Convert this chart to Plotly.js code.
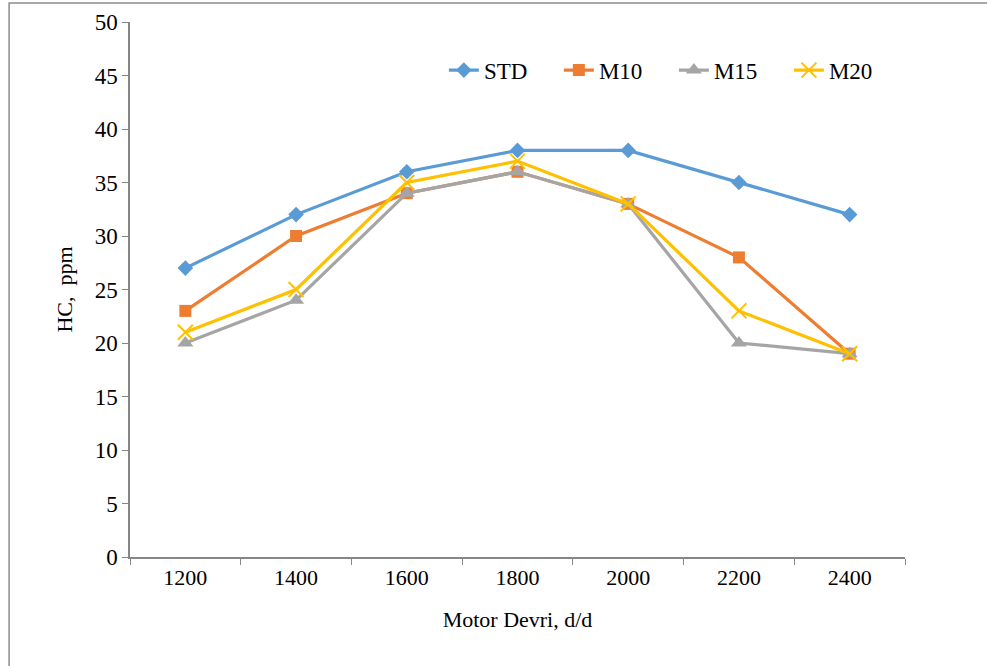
<!DOCTYPE html>
<html>
<head>
<meta charset="utf-8">
<script src="https://cdn.plot.ly/plotly-3.0.1.min.js"></script>
<style>html,body{margin:0;padding:0;background:#fff;}#chart{width:987px;height:666px;}</style>
</head>
<body>
<div id="chart"></div>
<script>
var categories = ['1200','1400','1600','1800','2000','2200','2400'];
var seriesNames = ['STD','M10','M15','M20'];
var STD = [27, 32, 36, 38, 38, 35, 32];
var M10 = [23, 30, 34, 36, 33, 28, 19];
var M15 = [20, 24, 34, 36, 33, 20, 19];
var M20 = [21, 25, 35, 37, 33, 23, 19];
var yTicks = [0,5,10,15,20,25,30,35,40,45,50];

var colors = ['#5B9BD5','#ED7D31','#A5A5A5','#FFC000'];
var symbols = ['diamond','square','triangle-up','x-thin-open'];
var sizes = [12, 12, 14, 15];
var data = [STD, M10, M15, M20].map(function(v,i){
  return {
    x: categories, y: v, name: seriesNames[i], type:'scatter', mode:'lines+markers',
    line:{color:colors[i], width:3.2},
    marker:{symbol:symbols[i], size:sizes[i], color:colors[i], line:{color:colors[i], width: i===3?2:0}}
  };
});
var FAM = 'Liberation Serif, Times New Roman, serif';
function f(s){ return {family:FAM, size:s, color:'#000'}; }
var layout = {
  width:987, height:666,
  margin:{l:130, r:82, t:22, b:109},
  paper_bgcolor:'#fff', plot_bgcolor:'#fff',
  font: f(22),
  showlegend:true,
  legend:{orientation:'h', x:0.405, y:0.91, xanchor:'left', yanchor:'middle', font:f(23), entrywidth:70, entrywidthmode:'pixels', tracegroupgap:0, bgcolor:'rgba(0,0,0,0)'},
  xaxis:{type:'category', range:[-0.5,6.5], showgrid:false, zeroline:false, showline:true, linecolor:'#868686', linewidth:1.5,
    ticks:'outside', tickson:'boundaries', ticklen:6, tickcolor:'#868686', tickfont:f(22),
    title:{text:'Motor Devri, d/d', font:f(22), standoff:22}},
  yaxis:{range:[0,50], tickvals:yTicks, showgrid:false, zeroline:false, showline:true, linecolor:'#868686', linewidth:1.5,
    ticks:'outside', ticklen:6, tickcolor:'#868686', tickfont:f(23),
    title:{text:'HC,  ppm', font:f(22), standoff:16}},
  shapes:[{type:'rect', xref:'paper', yref:'paper', x0:-0.156, x1:1.2, y0:-0.3, y1:1.0355, line:{color:'#8c8c8c', width:1.5}, fillcolor:'rgba(0,0,0,0)'}]
};
Plotly.newPlot('chart', data, layout, {displayModeBar:false});
</script>
</body>
</html>
